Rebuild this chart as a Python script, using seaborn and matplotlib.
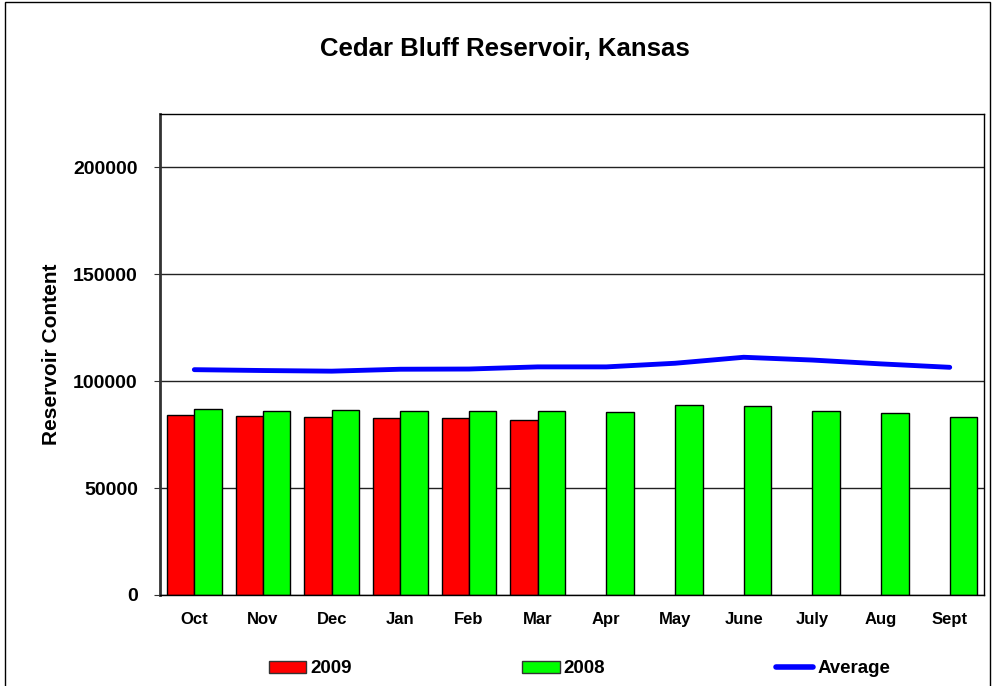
import numpy as np
import pandas as pd
import matplotlib
matplotlib.use("Agg")
import matplotlib.pyplot as plt
import seaborn as sns
from matplotlib.patches import Patch, Rectangle
from matplotlib.lines import Line2D

# values
months = ["Oct", "Nov", "Dec", "Jan", "Feb", "Mar", "Apr", "May", "June", "July", "Aug", "Sept"]
content_2009 = [84300, 83700, 83400, 82900, 82600, 81700]  # Oct..Mar only
content_2008 = [87100, 85900, 86400, 86200, 86200, 85900, 85600, 88700, 88300, 86200, 85100, 83400]
average = [105400, 105000, 104700, 105600, 105700, 106700, 106700, 108400, 111200, 109900, 108100, 106500]

rows = []
for m, v in zip(months, content_2009):
    rows.append({"month": m, "series": "2009", "content": v})
for m, v in zip(months, content_2008):
    rows.append({"month": m, "series": "2008", "content": v})
df = pd.DataFrame(rows)

sns.set_style("white")
plt.rcParams["font.family"] = ["Liberation Sans", "DejaVu Sans"]
plt.rcParams["font.weight"] = "bold"
plt.rcParams["text.color"] = "black"
plt.rcParams["xtick.color"] = "black"
plt.rcParams["ytick.color"] = "black"
plt.rcParams["axes.labelcolor"] = "black"

fig = plt.figure(figsize=(9.95, 6.86), dpi=100)
ax = fig.add_axes([0.1608, 0.1327, 0.8282, 0.7011])

colors = {"2009": "#ff0000", "2008": "#00ff00"}
sns.barplot(data=df, x="month", y="content", hue="series", order=months,
            hue_order=["2009", "2008"], palette=colors, edgecolor="black",
            linewidth=1, width=0.8, saturation=1, ax=ax, legend=False)

sns.lineplot(x=np.arange(len(months)), y=average, color="#0000ff", linewidth=3.5, ax=ax)

ax.set_xlim(-0.5, len(months) - 0.5)
ax.set_ylim(0, 225000)
ax.set_yticks([0, 50000, 100000, 150000, 200000])
ax.set_yticklabels(["0", "50000", "100000", "150000", "200000"], fontsize=14, fontweight="bold")
ax.set_xticks(np.arange(len(months)))
ax.set_xticklabels(months, fontsize=12, fontweight="bold")
ax.tick_params(axis="x", length=0, pad=12)
ax.tick_params(axis="y", length=4, direction="out", left=True, pad=12, color="#333333")
ax.yaxis.grid(True, color="#222222", linewidth=1)
ax.set_axisbelow(True)
ax.set_xlabel("")
ax.set_ylabel("Reservoir Content", fontsize=15, fontweight="bold", labelpad=9)
for side in ["top", "right", "bottom"]:
    ax.spines[side].set_color("black")
    ax.spines[side].set_linewidth(1)
ax.spines["left"].set_color("#333333")
ax.spines["left"].set_linewidth(2)

fig.text(0.507, 0.929, "Cedar Bluff Reservoir, Kansas", ha="center", va="center",
         fontsize=18.5, fontweight="bold")

handles = [Patch(facecolor=colors["2009"], edgecolor="#333333", label="2009"),
           Patch(facecolor=colors["2008"], edgecolor="#333333", label="2008"),
           Line2D([], [], color="#0000ff", linewidth=4, label="Average")]
fig.legend(handles=handles, loc="center", bbox_to_anchor=(0.5824, 0.025), ncol=3,
           frameon=False, prop={"size": 13.5, "weight": "bold"}, handlelength=2.0,
           handleheight=0.6, handletextpad=0.2, columnspacing=9.1)

fig.patches.append(Rectangle((0.005, -0.01), 0.99, 1.007, transform=fig.transFigure,
                             fill=False, edgecolor="black", linewidth=1))

fig.savefig("out.png", dpi=100)
